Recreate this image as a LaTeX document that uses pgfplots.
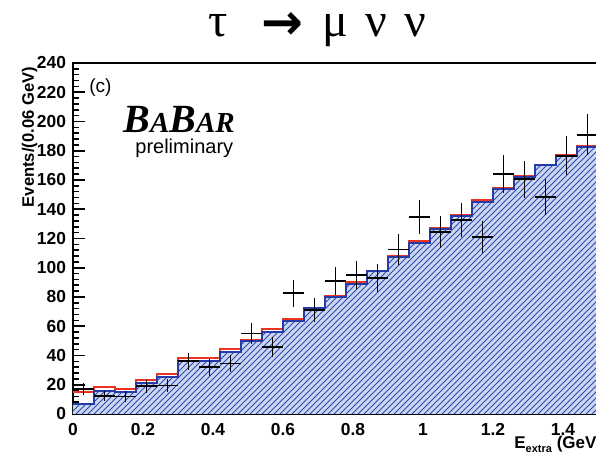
\documentclass[border=0pt]{standalone}
\usepackage{fontspec}
\setmainfont{Liberation Sans}
\newfontfamily\greekfont{Liberation Serif}
\newfontfamily\arrowfont{DejaVu Sans}
\usepackage{pgfplots}
\usepackage{pgfplotstable}
\pgfplotsset{compat=1.18}
\usetikzlibrary{patterns}

\definecolor{hfill}{RGB}{205,214,240}
\definecolor{hpat}{RGB}{45,75,175}
\definecolor{hblue}{RGB}{35,60,170}
\definecolor{hred}{RGB}{235,50,35}

\pgfplotstableread{
x blue red
0.00 7.0 15.0
0.06 15.6 18.4
0.12 15.0 17.0
0.18 21.4 23.0
0.24 25.5 27.3
0.30 36.5 38.5
0.36 36.3 38.0
0.42 42.6 44.4
0.48 50.0 50.6
0.54 56.3 57.8
0.60 63.6 65.0
0.66 72.3 72.8
0.72 80.2 80.7
0.78 89.0 90.4
0.84 97.5 98.0
0.90 107.6 108.1
0.96 117.0 118.4
1.02 126.5 127.0
1.08 135.7 136.2
1.14 145.2 146.6
1.20 153.7 154.2
1.26 162.3 162.8
1.32 170.0 170.5
1.38 176.4 176.9
1.44 182.8 183.3
1.50 182.8 183.3
}\hist

\pgfplotstableread{
x y ex ey
0.03 17.0 0.03 4.1
0.09 12.5 0.03 3.5
0.15 12.0 0.03 3.5
0.21 19.0 0.03 4.4
0.27 19.5 0.03 4.4
0.33 36.0 0.03 6.0
0.39 32.0 0.03 5.7
0.45 34.5 0.03 5.9
0.51 55.0 0.03 7.4
0.57 46.0 0.03 6.8
0.63 82.5 0.03 9.1
0.69 71.0 0.03 8.4
0.75 91.0 0.03 9.5
0.81 95.0 0.03 9.7
0.87 93.0 0.03 9.6
0.93 112.5 0.03 10.6
0.99 134.5 0.03 11.6
1.05 124.5 0.03 11.2
1.11 132.5 0.03 11.5
1.17 121.0 0.03 11.0
1.23 164.0 0.03 12.8
1.29 160.5 0.03 12.7
1.35 148.5 0.03 12.2
1.41 176.5 0.03 13.3
1.47 191.0 0.03 13.8
}\data

\begin{document}
\begin{tikzpicture}
\path[use as bounding box] (0,0) rectangle (298pt,227pt);
\begin{axis}[
  at={(36.5pt,20pt)}, anchor=south west,
  scale only axis, width=262.5pt, height=175.5pt,
  xmin=0, xmax=1.5, ymin=0, ymax=240,
  xtick={0,0.2,0.4,0.6,0.8,1,1.2,1.4},
  ytick={0,20,40,60,80,100,120,140,160,180,200,220,240},
  minor x tick num=3, minor y tick num=4,
  xtick pos=left, ytick pos=left, tick align=inside,
  major tick length=6pt, minor tick length=3pt,
  axis line style={line width=1pt},
  tick style={line width=0.8pt, black},
  /pgf/number format/assume math mode=true,
  ticklabel style={font=\bfseries\fontsize{8.7}{10}\selectfont},
  xticklabel style={/pgf/number format/fixed, yshift=-1pt},
  yticklabel style={/pgf/number format/fixed},
]
\addplot[const plot mark left, draw=hred, line width=1pt] table[x=x,y=red]{\hist};
\addplot[const plot mark left, fill=hfill, draw=none] table[x=x,y=blue]{\hist} \closedcycle;
\addplot[const plot mark left, pattern=north east lines, pattern color=hpat, draw=none] table[x=x,y=blue]{\hist} \closedcycle;
\addplot[const plot mark left, draw=hblue, line width=1pt] table[x=x,y=blue]{\hist};
\addplot[black, mark=none, draw=none,
  error bars/.cd, x dir=both, x explicit, y dir=both, y explicit,
  error mark=none, error bar style={black, line width=0.9pt}]
  table[x=x, y=y, x error=ex, y error=ey]{\data};
\end{axis}
\node[rotate=90, anchor=east, font=\bfseries\fontsize{8.3}{10}\selectfont] at (14.75pt,197pt) {Events/(0.06 GeV)};
\node[anchor=base west, inner sep=0pt] at (257pt,2.5pt) {\bfseries\fontsize{8.5}{10}\selectfont E{\fontsize{5.5}{6}\selectfont\raisebox{-2pt}{extra}} (GeV)};
\node[anchor=west, font=\fontsize{9.5}{11}\selectfont, inner sep=0pt] at (44.5pt,183pt) {(c)};
\node[anchor=base west, inner sep=0pt] at (61.5pt,160.5pt) {\greekfont\bfseries\itshape\fontsize{20}{24}\selectfont B\fontsize{14.5}{18}\selectfont A\fontsize{20}{24}\selectfont B\fontsize{14.5}{18}\selectfont AR};
\node[anchor=base west, inner sep=0pt, font=\fontsize{10}{12}\selectfont] at (67.5pt,150pt) {preliminary};
\node[anchor=base, inner sep=0pt] at (109.25pt,208.5pt) {\greekfont\fontsize{24}{26}\selectfont τ};
\node[anchor=base, inner sep=0pt] at (141pt,207pt) {\arrowfont\bfseries\fontsize{25}{27}\selectfont →};
\node[anchor=base, inner sep=0pt] at (167.5pt,208.5pt) {\greekfont\fontsize{24}{26}\selectfont μ};
\node[anchor=base, inner sep=0pt] at (188.25pt,208.5pt) {\greekfont\fontsize{24}{26}\selectfont ν};
\node[anchor=base, inner sep=0pt] at (207.75pt,208.5pt) {\greekfont\fontsize{24}{26}\selectfont ν};
\end{tikzpicture}
\end{document}
